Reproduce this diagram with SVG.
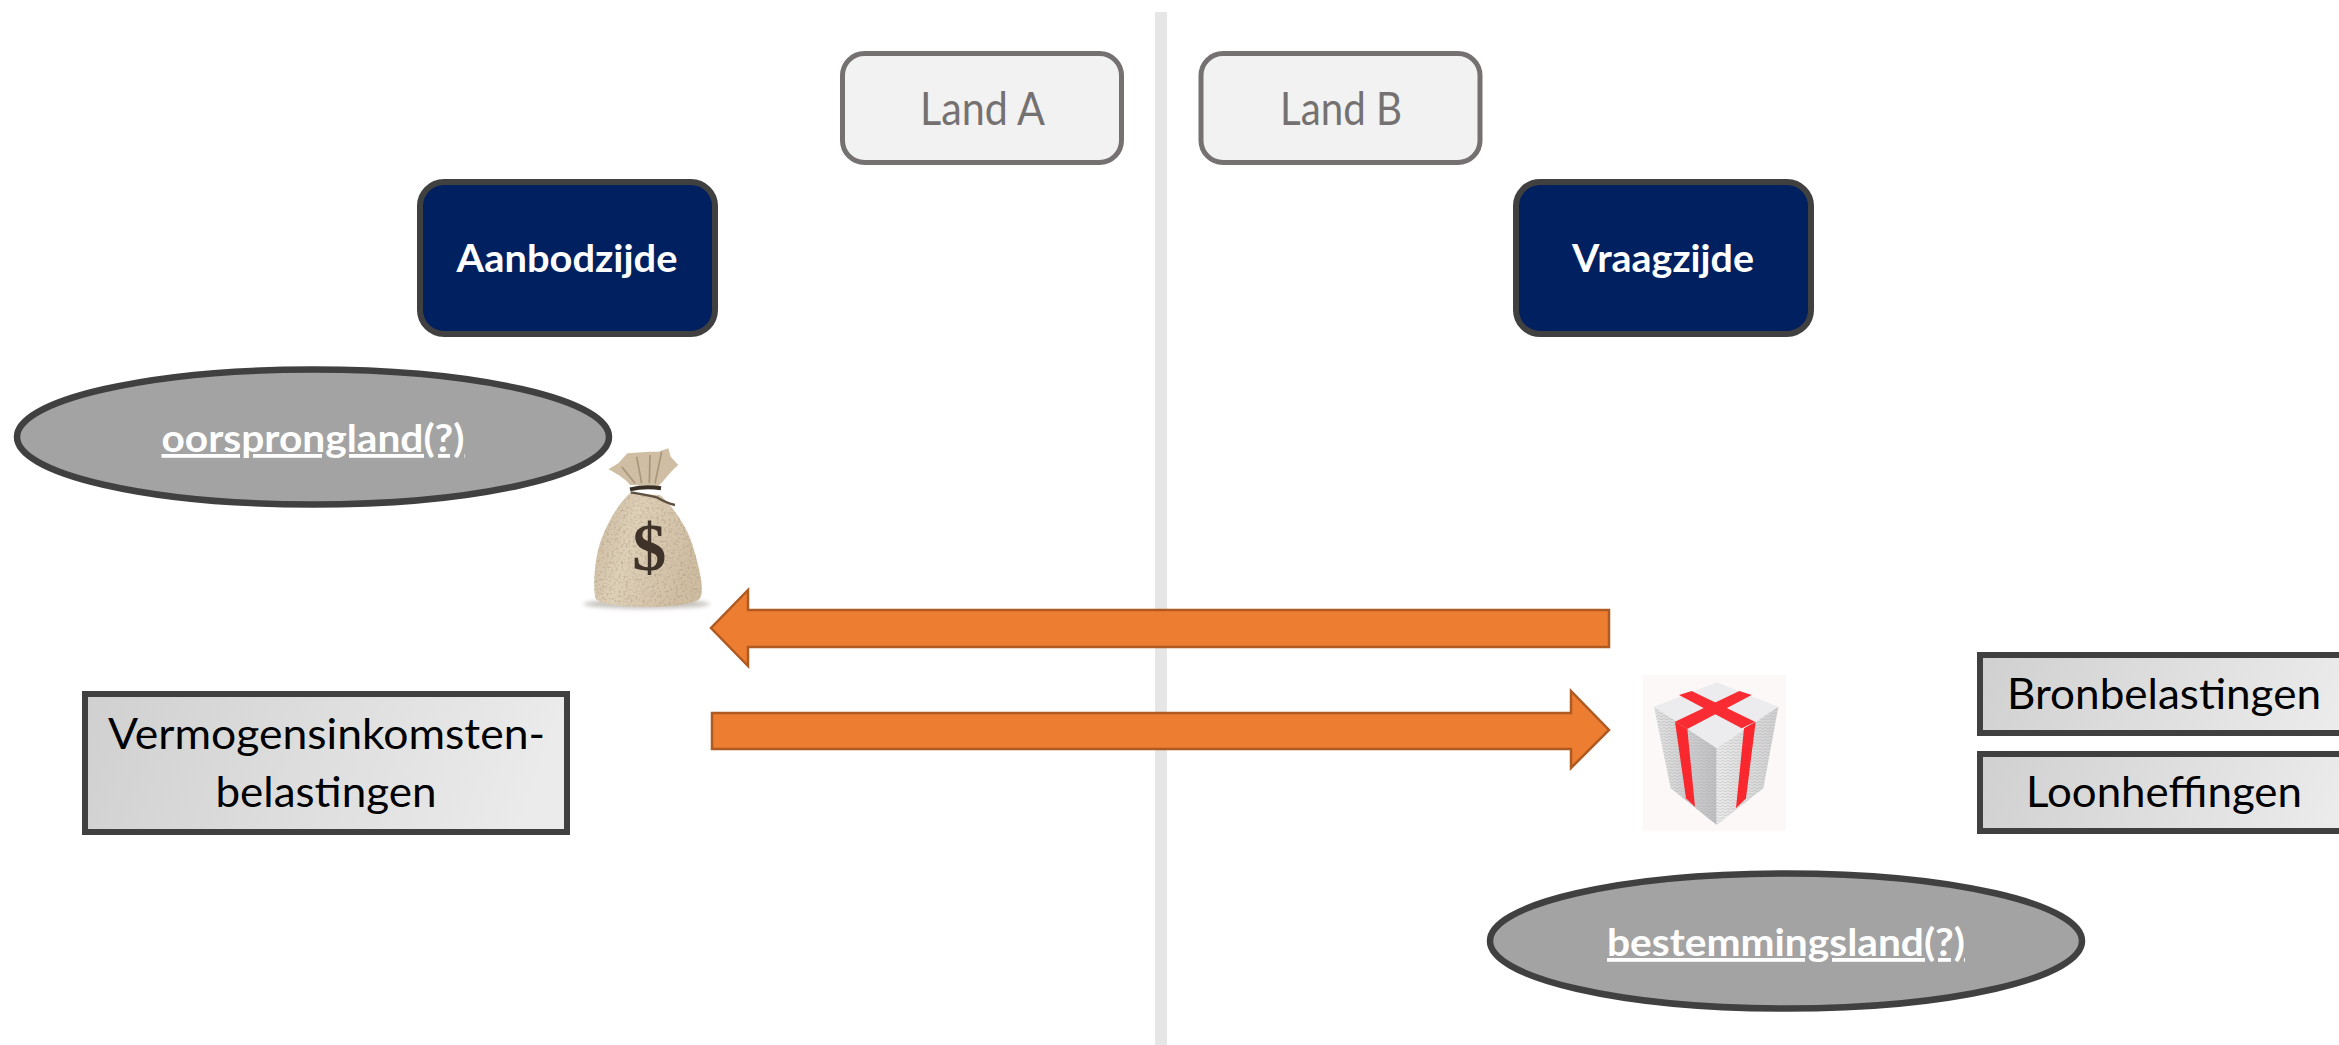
<svg xmlns="http://www.w3.org/2000/svg" width="2339" height="1045" viewBox="0 0 2339 1045">
<style>
text{font-family:"Lato","Carlito","Liberation Sans",sans-serif}
.land{fill:#f2f2f2;stroke:#767171;stroke-width:5}
.landt{fill:#767171;font-size:46px;text-anchor:middle}
.side{fill:#002060;stroke:#404040;stroke-width:6}
.sidet{fill:#fff;font-size:38px;font-weight:700;text-anchor:middle}
.ell{fill:#a3a3a3;stroke:#404040;stroke-width:6.500}
.ellt{fill:#fff;font-size:38px;font-weight:700;text-anchor:middle;text-decoration:underline}
.tax{fill:url(#taxg);stroke:#404040;stroke-width:6}
.taxt{fill:#000;font-size:42px;text-anchor:middle}
.arrow{fill:#ed7d31;stroke:#ae5a21;stroke-width:2.500}
</style>
<defs>
<linearGradient id="taxg" x1="0" y1="0" x2="1" y2="0.1"><stop offset="0" stop-color="#d0d0d0"/><stop offset="1" stop-color="#ebebeb"/></linearGradient>
<linearGradient id="bagg" x1="0" y1="0" x2="1" y2="0.3"><stop offset="0" stop-color="#c9b89d"/><stop offset="0.4" stop-color="#dfd0b8"/><stop offset="1" stop-color="#d0bea3"/></linearGradient>
<linearGradient id="lf" x1="0" y1="0" x2="1" y2="0"><stop offset="0" stop-color="#e4e4e4"/><stop offset="1" stop-color="#bfbfc3"/></linearGradient>
<linearGradient id="rf" x1="0" y1="0" x2="1" y2="0"><stop offset="0" stop-color="#ececec"/><stop offset="1" stop-color="#d0d0d2"/></linearGradient>
<pattern id="dots" width="16" height="18" patternUnits="userSpaceOnUse"><path d="M0 4L8 9L16 4M0 13L8 18L16 13" fill="none" stroke="#a9a9ad" stroke-width="2.500" opacity=".55"/></pattern>
<filter id="blur" x="-30%" y="-150%" width="160%" height="400%"><feGaussianBlur stdDeviation="7"/></filter>
<filter id="burlap" x="0" y="0" width="100%" height="100%"><feTurbulence type="fractalNoise" baseFrequency="0.14" numOctaves="2" seed="4"/><feColorMatrix values="0 0 0 0 0.3  0 0 0 0 0.24  0 0 0 0 0.16  0 0 0 1.4 -0.66"/><feComposite in2="SourceAlpha" operator="in"/><feMerge><feMergeNode in="SourceGraphic"/><feMergeNode/></feMerge></filter>
</defs>
<rect width="2339" height="1045" fill="#fff"/>
<rect id="divider" x="1155" y="12" width="12" height="1033" fill="#e6e6e6"/>
<g id="land-a"><rect class="land" x="842.500" y="53.500" width="279" height="109" rx="22"/><text class="landt" x="982.500" y="125" textLength="125" lengthAdjust="spacingAndGlyphs">Land A</text></g>
<g id="land-b"><rect class="land" x="1201" y="53.500" width="279" height="109" rx="22"/><text class="landt" x="1341" y="125" textLength="122" lengthAdjust="spacingAndGlyphs">Land B</text></g>
<g id="aanbodzijde"><rect class="side" x="420" y="182" width="295" height="152" rx="24"/><text class="sidet" x="567" y="272" textLength="221" lengthAdjust="spacingAndGlyphs">Aanbodzijde</text></g>
<g id="vraagzijde"><rect class="side" x="1516" y="182" width="295" height="152" rx="24"/><text class="sidet" x="1663" y="272" textLength="182" lengthAdjust="spacingAndGlyphs">Vraagzijde</text></g>
<g id="oorsprongland"><ellipse class="ell" cx="313" cy="437" rx="296" ry="67.500"/><text class="ellt" x="313" y="452" textLength="303" lengthAdjust="spacingAndGlyphs">oorsprongland(?)</text></g>
<g id="bestemmingsland"><ellipse class="ell" cx="1786" cy="941" rx="296" ry="67.500"/><text class="ellt" x="1786" y="956" textLength="358" lengthAdjust="spacingAndGlyphs">bestemmingsland(?)</text></g>
<g id="vermogen"><rect class="tax" x="85" y="694" width="482" height="138"/><text class="taxt" x="326.500" y="749" textLength="437" lengthAdjust="spacingAndGlyphs">Vermogensinkomsten-</text><text class="taxt" x="326" y="807" textLength="221" lengthAdjust="spacingAndGlyphs">belastingen</text></g>
<g id="bron"><rect class="tax" x="1980" y="655" width="380" height="78"/><text class="taxt" x="2164" y="709" textLength="314" lengthAdjust="spacingAndGlyphs">Bronbelastingen</text></g>
<g id="loon"><rect class="tax" x="1980" y="754" width="380" height="77"/><text class="taxt" x="2164" y="807" textLength="276" lengthAdjust="spacingAndGlyphs">Loonheffingen</text></g>
<g id="connectors">
<path class="arrow" d="M1609 610H748V590L711 628L748 666V647H1609Z"/>
<path class="arrow" d="M712 713H1571V691L1609 730L1571 768V749H712Z"/>
</g>
<g id="money-bag" transform="translate(540 400) scale(.33333)">
<ellipse cx="320" cy="612" rx="190" ry="14" fill="#8a8378" opacity=".5" filter="url(#blur)"/>
<path filter="url(#burlap)" fill="url(#bagg)" d="M270 280C235 310 185 390 170 470C160 530 160 590 170 600C215 628 425 628 475 600C495 585 485 530 462 450C445 380 390 310 360 285Z"/>
<path fill="#cfbea3" d="M270 255C255 235 225 218 205 208L235 190L262 160L330 155L355 155L385 145L392 170L415 195C390 215 375 240 355 258Z"/>
<path fill="none" stroke="#a9967a" stroke-width="5" d="M290 170L305 250M330 165L328 250M365 155L345 250M245 200L285 250"/>
<path fill="none" stroke="#3a3025" stroke-width="12" d="M270 268Q316 258 363 265"/>
<path fill="none" stroke="#5e5040" stroke-width="7" d="M272 277Q320 285 350 292Q380 310 405 315"/>
<text x="328" y="511" font-size="205" font-weight="700" fill="#3f3228" text-anchor="middle" style="font-family:'Liberation Serif',serif">$</text>
</g>
<g id="gift" transform="translate(1600 660) scale(.33333)">
<rect x="128" y="45" width="430" height="467" fill="#fcf8f8"/>
<path fill="#ececee" d="M350 67L535 140L350 265L162 140Z"/>
<path fill="url(#lf)" d="M162 140L350 265V495L212 385Z"/>
<path fill="url(#dots)" d="M162 140L350 265V495L212 385Z"/>
<path fill="url(#rf)" d="M535 140L350 265V495L490 385Z"/>
<path fill="url(#dots)" d="M535 140L350 265V495L490 385Z"/>
<path fill="#fa2c33" d="M237 105L275 93L465 185L425 205Z"/>
<path fill="#fa2c33" d="M455 105L418 93L225 185L262 207Z"/>
<path fill="#f8282e" d="M225 185L262 207L285 440L258 415Z"/>
<path fill="#f8282e" d="M467 185L432 205L408 445L438 415Z"/>
</g>
</svg>
